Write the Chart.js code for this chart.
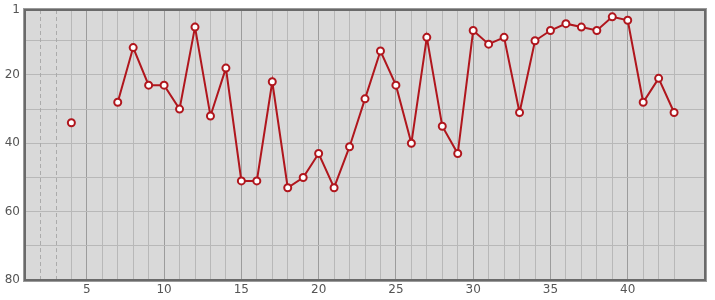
<!DOCTYPE html>
<html>
<head>
<meta charset="utf-8">
<script src="https://cdn.jsdelivr.net/npm/chart.js@4/dist/chart.umd.min.js"></script>
<style>
  html, body { margin: 0; padding: 0; background: #ffffff; }
  #chart { display: block; }
</style>
</head>
<body>
<canvas id="chart" width="715" height="300"></canvas>
<script>
// Rank per day (lower is better, axis is reversed)
const days = [4, 5, 6, 7, 8, 9, 10, 11, 12, 13, 14, 15, 16, 17, 18, 19, 20, 21, 22, 23,
  24, 25, 26, 27, 28, 29, 30, 31, 32, 33, 34, 35, 36, 37, 38, 39, 40, 41, 42, 43];
const ranks = [34, null, null, 28, 12, 23, 23, 30, 6, 32, 18, 51, 51, 22, 53, 50, 43, 53, 41, 27,
  13, 23, 40, 9, 35, 43, 7, 11, 9, 31, 10, 7, 5, 6, 7, 3, 4, 28, 21, 31];

const xRange = [1, 45];
const xLabels = [5, 10, 15, 20, 25, 30, 35, 40];
const yRange = [1, 80];
const yTicks = [1, 10, 20, 30, 40, 50, 60, 70, 80];
const yLabels = [1, 20, 40, 60, 80];
const dashedDays = [2, 3];

const lineColor = '#b0161d';
const font = { family: 'DejaVu Sans', size: 12 };

// frame + dashed lines for the empty days
const framePlugin = {
  id: 'frame',
  beforeDatasetsDraw(chart) {
    const { ctx, chartArea: a, scales } = chart;
    ctx.save();
    ctx.strokeStyle = '#ababab';
    ctx.lineWidth = 1;
    ctx.setLineDash([4, 3]);
    dashedDays.forEach(d => {
      const x = Math.round(scales.x.getPixelForValue(d)) + 0.5;
      ctx.beginPath();
      ctx.moveTo(x, a.top);
      ctx.lineTo(x, a.bottom);
      ctx.stroke();
    });
    ctx.restore();
  },
  afterDraw(chart) {
    const { ctx, chartArea: a } = chart;
    ctx.save();
    ctx.strokeStyle = '#9a9a9a';
    ctx.lineWidth = 1;
    ctx.strokeRect(a.left - 1.5, a.top - 1.5, a.right - a.left + 3, a.bottom - a.top + 3);
    ctx.strokeStyle = '#6a6a6a';
    ctx.lineWidth = 2;
    ctx.strokeRect(a.left, a.top, a.right - a.left, a.bottom - a.top);
    ctx.restore();
  }
};

const bgPlugin = {
  id: 'plotBg',
  beforeDraw(chart) {
    const { ctx, chartArea: a } = chart;
    ctx.save();
    ctx.fillStyle = '#d9d9d9';
    ctx.fillRect(a.left, a.top, a.right - a.left, a.bottom - a.top);
    ctx.restore();
  }
};

new Chart(document.getElementById('chart').getContext('2d'), {
  type: 'line',
  data: {
    datasets: [{
      data: days.map((d, i) => ({ x: d, y: ranks[i] })),
      borderColor: lineColor,
      borderWidth: 2,
      pointRadius: 3.5,
      pointBorderWidth: 2,
      pointBackgroundColor: '#ffffff',
      pointBorderColor: lineColor,
      spanGaps: false,
      tension: 0
    }]
  },
  options: {
    responsive: false,
    animation: false,
    layout: { padding: { top: 10, right: 10, left: 0, bottom: 0 } },
    plugins: { legend: { display: false }, tooltip: { enabled: false } },
    scales: {
      x: {
        type: 'linear',
        min: xRange[0],
        max: xRange[1],
        afterFit: s => {
          s.height = 20;
          s.paddingLeft = 0;
          s.paddingRight = 0;
        },
        ticks: {
          stepSize: 1,
          autoSkip: false,
          maxRotation: 0,
          padding: 3,
          color: '#555555',
          font: font,
          callback: v => (xLabels.includes(v) ? String(v) : '')
        },
        grid: {
          drawTicks: false,
          lineWidth: 1,
          color: ctx => {
            const v = ctx.tick && ctx.tick.value;
            if (v <= xRange[0] || v >= 44 || dashedDays.includes(v)) return 'rgba(0,0,0,0)';
            return xLabels.includes(v) ? '#9c9c9c' : '#b8b8b8';
          }
        },
        border: { display: false }
      },
      y: {
        type: 'linear',
        reverse: true,
        min: yRange[0],
        max: yRange[1],
        afterFit: s => {
          s.width = 25;
          s.paddingTop = 0;
          s.paddingBottom = 0;
        },
        afterBuildTicks: s => { s.ticks = yTicks.map(v => ({ value: v })); },
        ticks: {
          padding: 5,
          color: '#555555',
          font: font,
          callback: v => (yLabels.includes(v) ? String(v) : '')
        },
        grid: {
          drawTicks: false,
          lineWidth: 1,
          color: ctx => {
            const v = ctx.tick && ctx.tick.value;
            if (v === yRange[0] || v === yRange[1]) return 'rgba(0,0,0,0)';
            return '#b8b8b8';
          }
        },
        border: { display: false }
      }
    }
  },
  plugins: [bgPlugin, framePlugin]
});
</script>
</body>
</html>
